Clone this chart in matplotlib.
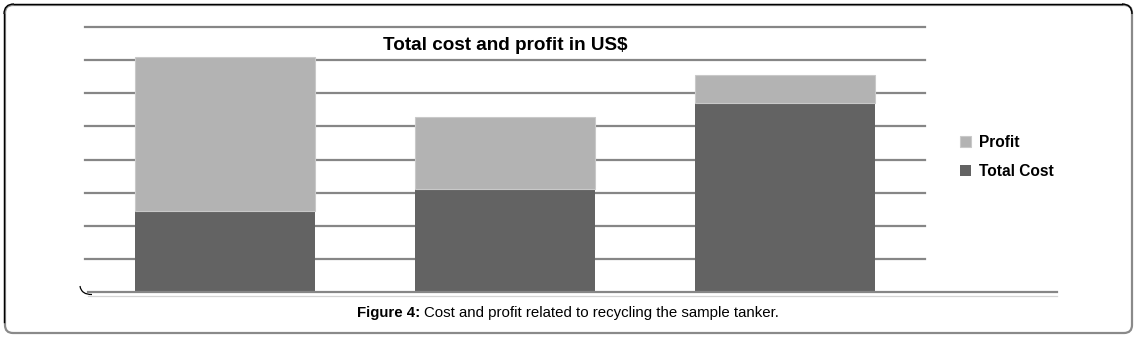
import numpy as np
import matplotlib.pyplot as plt
from matplotlib.patches import FancyBboxPatch, PathPatch
from matplotlib.path import Path

plt.rcParams['font.family'] = ['Liberation Sans', 'DejaVu Sans']

# values (chart has no axis labels, so units are grid steps)
categories = ["Case 1", "Case 2", "Case 3"]
total_cost = [2.45, 3.11, 5.71]
profit = [4.63, 2.18, 0.84]
series_names = ["Profit", "Total Cost"]
title = "Total cost and profit in US$"
caption_bold = "Figure 4:"
caption_rest = "Cost and profit related to recycling the sample tanker."

W, H = 1137, 338
fig = plt.figure(figsize=(W / 100, H / 100), dpi=100)

# background axes in pixel coordinates (y downwards) for the frame and floor
bg = fig.add_axes([0, 0, 1, 1], zorder=0)
bg.set_xlim(0, W)
bg.set_ylim(H, 0)
bg.axis('off')

# outer rounded frame: gray shadow on right/bottom, black on top/left
bg.add_patch(FancyBboxPatch((5, 5), 1127, 328,
                            boxstyle="round,pad=0,rounding_size=8",
                            facecolor='white', edgecolor='#8a8a8a', lw=1.6))
bg.plot([4, 4], [14, 322], color='black', lw=1.0)
bg.plot([14, 1122], [4, 4], color='black', lw=1.0)
bg.add_patch(PathPatch(Path([(4, 14), (4, 4), (14, 4)],
                            [Path.MOVETO, Path.CURVE3, Path.CURVE3]),
                       facecolor='none', edgecolor='black', lw=1.0))
bg.add_patch(PathPatch(Path([(1122, 4), (1132, 4), (1132, 14)],
                            [Path.MOVETO, Path.CURVE3, Path.CURVE3]),
                       facecolor='none', edgecolor='black', lw=1.0))

# floor of the chart
bg.plot([88, 1057], [295.5, 295.5], color='#d4d4d4', lw=0.9)
bg.add_patch(PathPatch(Path([(80, 286), (81, 292), (85, 294.5), (92, 294.5)],
                            [Path.MOVETO, Path.CURVE4, Path.CURVE4,
                             Path.CURVE4]),
                       facecolor='none', edgecolor='black', lw=0.9))

ax = fig.add_axes([85 / W, 1 - 292.3 / H, 840 / W, 265.6 / H], zorder=1)
ax.patch.set_alpha(0)
x = np.arange(len(categories))
ax.bar(x, total_cost, width=0.643, color='#636363', zorder=3,
       label=series_names[1])
ax.bar(x, profit, bottom=total_cost, width=0.643, color='#b3b3b3',
       edgecolor='#c9c9c9', linewidth=0.8, zorder=3, label=series_names[0])

ax.set_xlim(-0.5, 2.5)
ax.set_ylim(0, 8)
ax.set_yticks(np.arange(1, 9))
ax.yaxis.grid(True, color='#868686', linewidth=1.6)
ax.set_axisbelow(True)
ax.tick_params(left=False, bottom=False, labelleft=False, labelbottom=False)
for s in ax.spines.values():
    s.set_visible(False)
for gl in ax.get_ygridlines():
    gl.set_clip_on(False)

bg2 = fig.add_axes([0, 0, 1, 1], zorder=2)
bg2.set_xlim(0, W)
bg2.set_ylim(H, 0)
bg2.axis('off')
bg2.plot([88, 1057], [292.3, 292.3], color='#868686', lw=1.6)

bg2.text(505, 45, title, ha='center', va='center', fontsize=13.6,
         fontweight='bold')

handles, labels = ax.get_legend_handles_labels()
bg2.legend(handles[::-1], labels[::-1], loc='center left',
           bbox_to_anchor=(946 / W, 1 - 157 / H),
           bbox_transform=fig.transFigure, frameon=False,
           handlelength=0.7, handleheight=0.7, handletextpad=0.55,
           labelspacing=0.85, prop={'weight': 'bold', 'size': 11.2})

t1 = bg2.text(357, 313, caption_bold, ha='left', va='center',
              fontsize=10.8, fontweight='bold')
bg2.annotate(caption_rest, xy=(1, 0.5), xycoords=t1, xytext=(3, 0),
             textcoords='offset points', ha='left', va='center',
             fontsize=10.8, annotation_clip=False)

fig.savefig('out.png', dpi=100)
